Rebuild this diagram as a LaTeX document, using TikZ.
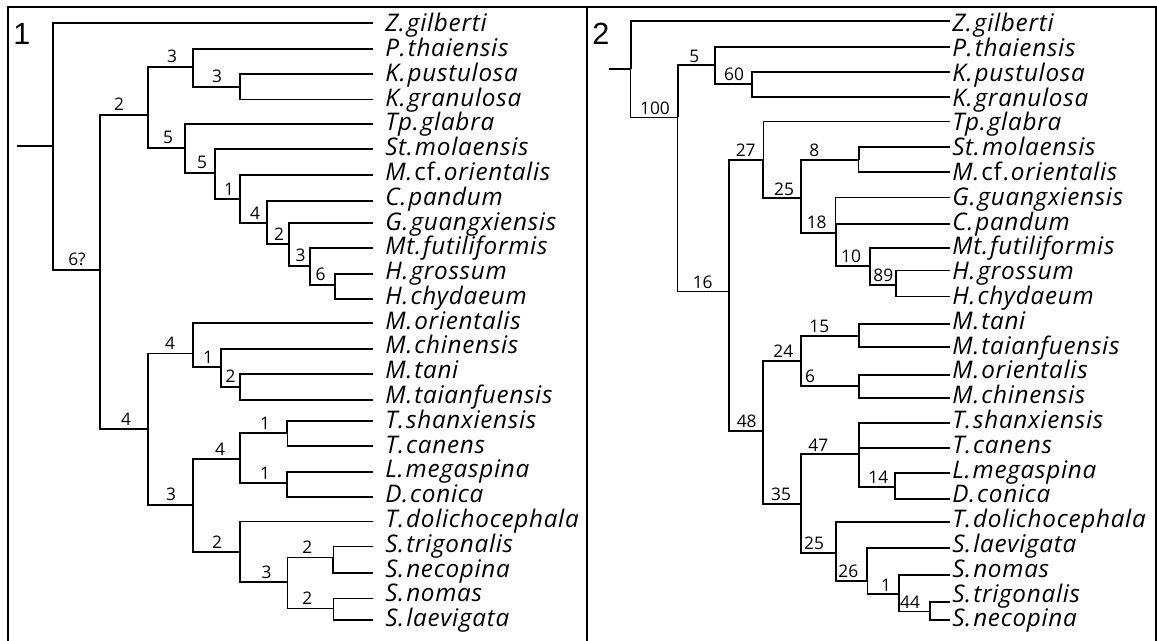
\documentclass[tikz,border=0pt]{standalone}
\usepackage{fontspec}
\setmainfont{Open Sans}
\newfontfamily\taxfont{Open Sans}[LetterSpace=3]
\newfontfamily\panelfont{Liberation Sans}
\newcommand\tsp{\hspace{0.08em}}
\begin{document}
\begin{tikzpicture}[x=0.75pt,y=-0.75pt,
  thk/.style={line width=1.75pt},
  thn/.style={line width=1.05pt},
  frame/.style={line width=1.6pt},
  taxon/.style={anchor=base west, inner sep=0pt, font=\taxfont\fontsize{18.2}{18.2}\selectfont\itshape},
  bsup/.style={anchor=base, inner sep=0pt, font=\fontsize{13}{13}\selectfont},
  plabel/.style={anchor=base, inner sep=0pt, font=\panelfont\fontsize{23}{23}\selectfont}]
\useasboundingbox (0,0) rectangle (1157,641);
% frame
\draw[frame] (8.3,642) -- (8.3,6.7) -- (1156,6.7) -- (1156,642);
\draw[frame] (587.3,6.7) -- (587.3,642);
\node[plabel] (p1) at (22,45) {1};
\node[plabel] (p2) at (601,45) {2};

% ================= PANEL 1 =================
\coordinate (a-stub) at (17,146);
\coordinate (a-R) at (53,146);
\coordinate (a-N6) at (100,270);
\coordinate (a-N2) at (148,115);
\coordinate (a-N3a) at (193,67);
\coordinate (a-N3b) at (240,86.7);
\coordinate (a-N5a) at (185,148);
\coordinate (a-N5b) at (215,173);
\coordinate (a-N1a) at (240,199.3);
\coordinate (a-N4b) at (267,223.3);
\coordinate (a-N2b) at (289,244.3);
\coordinate (a-N3c) at (310,266);
\coordinate (a-N6b) at (335,285);
\coordinate (a-N4a) at (148,429.3);
\coordinate (a-N4c) at (193,353.3);
\coordinate (a-N1b) at (220.7,367.3);
\coordinate (a-N2c) at (240,386.7);
\coordinate (a-N3d) at (193,505);
\coordinate (a-N4d) at (240,459.3);
\coordinate (a-N1c) at (287.3,433.3);
\coordinate (a-N1d) at (287.3,483.3);
\coordinate (a-N2d) at (240,552.3);
\coordinate (a-N3e) at (287.3,582.3);
\coordinate (a-N2e) at (333.3,557.7);
\coordinate (a-N2f) at (333.3,608.3);
\foreach \y [count=\i] in {22.7,49.3,74,99.3,124,149.3,174.7,201,222.7,248.3,274,299.3,323.3,349.3,374,400,421,446,471.7,497.3,521.7,546.7,572.7,598.3,620}
  \coordinate (a-L\i) at (373,\y);
\foreach \n [count=\i] in {Z.\tsp gilberti,P.\tsp thaiensis,K.\tsp pustulosa,K.\tsp granulosa,Tp.\tsp glabra,St.\tsp molaensis,M.\tsp{\upshape cf.}\tsp orientalis,C.\tsp pandum,G.\tsp guangxiensis,Mt.\tsp futiliformis,H.\tsp grossum,H.\tsp chydaeum,M.\tsp orientalis,M.\tsp chinensis,M.\tsp tani,M.\tsp taianfuensis,T.\tsp shanxiensis,T.\tsp canens,L.\tsp megaspina,D.\tsp conica,T.\tsp dolichocephala,S.\tsp trigonalis,S.\tsp necopina,S.\tsp nomas,S.\tsp laevigata}
  \node[taxon] (a-T\i) at (385,{31.7+24.79*(\i-1)}) {\n};

\draw[thn] (a-stub) -- (a-R);
\draw[thk] (a-R) |- (a-L1);
\draw[thk] (a-R) |- (a-N6);
\draw[thk] (a-N6) |- (a-N2);
\draw[thk] (a-N6) |- (a-N4a);
\draw[thn] (a-N2) |- (a-N3a);
\draw[thk] (a-N2) |- (a-N5a);
\draw[thk] (a-N3a) |- (a-L2);
\draw[thk] (a-N3a) |- (a-N3b);
\draw[thk] (a-N3b) |- (a-L3);
\draw[thn] (a-N3b) |- (a-L4);
\draw[thk] (a-N5a) |- (a-L5);
\draw[thk] (a-N5a) |- (a-N5b);
\draw[thk] (a-N5b) |- (a-L6);
\draw[thk] (a-N5b) |- (a-N1a);
\draw[thk] (a-N1a) |- (a-L7);
\draw[thk] (a-N1a) |- (a-N4b);
\draw[thn] (a-N4b) |- (a-L8);
\draw[thk] (a-N4b) |- (a-N2b);
\draw[thk] (a-N2b) |- (a-L9);
\draw[thk] (a-N2b) |- (a-N3c);
\draw[thk] (a-N3c) |- (a-L10);
\draw[thn] (a-N3c) |- (a-N6b);
\draw[thk] (a-N6b) |- (a-L11);
\draw[thk] (a-N6b) |- (a-L12);
\draw[thn] (a-N4a) |- (a-N4c);
\draw[thk] (a-N4a) |- (a-N3d);
\draw[thk] (a-N4c) |- (a-L13);
\draw[thk] (a-N4c) |- (a-N1b);
\draw[thk] (a-N1b) |- (a-L14);
\draw[thk] (a-N1b) |- (a-N2c);
\draw[thk] (a-N2c) |- (a-L15);
\draw[thk] (a-N2c) |- (a-L16);
\draw[thk] (a-N3d) |- (a-N4d);
\draw[thk] (a-N3d) |- (a-N2d);
\draw[thk] (a-N4d) |- (a-N1c);
\draw[thk] (a-N4d) |- (a-N1d);
\draw[thk] (a-N1c) |- (a-L17);
\draw[thn] (a-N1c) |- (a-L18);
\draw[thk] (a-N1d) |- (a-L19);
\draw[thk] (a-N1d) |- (a-L20);
\draw[thn] (a-N2d) |- (a-L21);
\draw[thk] (a-N2d) |- (a-N3e);
\draw[thn] (a-N3e) |- (a-N2e);
\draw[thn] (a-N3e) |- (a-N2f);
\draw[thn] (a-N2e) |- (a-L22);
\draw[thk] (a-N2e) |- (a-L23);
\draw[thn] (a-N2f) |- (a-L24);
\draw[thn] (a-N2f) |- (a-L25);

\node[bsup] (a-s6) at (77,266) {6?};
\node[bsup] (a-s2) at (119,111) {2};
\node[bsup] (a-s3a) at (172,63) {3};
\node[bsup] (a-s3b) at (217,82.7) {3};
\node[bsup] (a-s5a) at (168,144) {5};
\node[bsup] (a-s5b) at (202,169) {5};
\node[bsup] (a-s1a) at (229,195.3) {1};
\node[bsup] (a-s4b) at (255,219.3) {4};
\node[bsup] (a-s2b) at (279,240.3) {2};
\node[bsup] (a-s3c) at (300.7,262) {3};
\node[bsup] (a-s6b) at (320.7,281) {6};
\node[bsup] (a-s4a) at (126,425.3) {4};
\node[bsup] (a-s4c) at (170,349.3) {4};
\node[bsup] (a-s1b) at (208,363.3) {1};
\node[bsup] (a-s2c) at (230.7,382.7) {2};
\node[bsup] (a-s3d) at (171,501) {3};
\node[bsup] (a-s4d) at (220,455.3) {4};
\node[bsup] (a-s1c) at (265,429.3) {1};
\node[bsup] (a-s1d) at (265,479.3) {1};
\node[bsup] (a-s2d) at (217,548.3) {2};
\node[bsup] (a-s3e) at (266.7,578.3) {3};
\node[bsup] (a-s2e) at (307.3,553.7) {2};
\node[bsup] (a-s2f) at (307.3,604.3) {2};

% ================= PANEL 2 =================
\coordinate (b-stub) at (609.3,69.3);
\coordinate (b-R) at (630.7,69.3);
\coordinate (b-M100) at (677.7,117.3);
\coordinate (b-M5) at (715,65.3);
\coordinate (b-M60) at (751.7,84);
\coordinate (b-M16) at (729,291.7);
\coordinate (b-M27) at (763.3,160);
\coordinate (b-M25a) at (801,198.3);
\coordinate (b-M8) at (858.7,160);
\coordinate (b-M18) at (835.7,233.3);
\coordinate (b-M10) at (870,265.7);
\coordinate (b-M89) at (896,285);
\coordinate (b-M48) at (763.3,431);
\coordinate (b-M24) at (801,360.7);
\coordinate (b-M15) at (858.7,336);
\coordinate (b-M6) at (858.7,385.7);
\coordinate (b-M35) at (801,504);
\coordinate (b-M47) at (858.7,454.3);
\coordinate (b-M14) at (895,486.7);
\coordinate (b-M25b) at (835.7,552.7);
\coordinate (b-M26) at (867.3,580.7);
\coordinate (b-M1) at (899,594);
\coordinate (b-M44) at (930,611.7);
\foreach \y [count=\i] in {20.7,46.7,71.7,97,121.7,147,172,197.7,224,248.3,270.7,296.7,324,346.7,375,398.3,423.3,448.3,473.3,499,521.7,548.3,575,601.7,620}
  \coordinate (b-L\i) at (950,\y);
\foreach \n [count=\i] in {Z.\tsp gilberti,P.\tsp thaiensis,K.\tsp pustulosa,K.\tsp granulosa,Tp.\tsp glabra,St.\tsp molaensis,M.\tsp{\upshape cf.}\tsp orientalis,G.\tsp guangxiensis,C.\tsp pandum,Mt.\tsp futiliformis,H.\tsp grossum,H.\tsp chydaeum,M.\tsp tani,M.\tsp taianfuensis,M.\tsp orientalis,M.\tsp chinensis,T.\tsp shanxiensis,T.\tsp canens,L.\tsp megaspina,D.\tsp conica,T.\tsp dolichocephala,S.\tsp laevigata,S.\tsp nomas,S.\tsp trigonalis,S.\tsp necopina}
  \node[taxon] (b-T\i) at (952,{31.7+24.8*(\i-1)}) {\n};

\draw[thk] (b-stub) -- (b-R);
\draw[thk] (b-R) |- (b-L1);
\draw[thn] (b-R) |- (b-M100);
\draw[thk] (b-M100) |- (b-M5);
\draw[thn] (b-M100) |- (b-M16);
\draw[thk] (b-M5) |- (b-L2);
\draw[thk] (b-M5) |- (b-M60);
\draw[thk] (b-M60) |- (b-L3);
\draw[thk] (b-M60) |- (b-L4);
\draw[thk] (b-M16) |- (b-M27);
\draw[thk] (b-M16) |- (b-M48);
\draw[thn] (b-M27) |- (b-L5);
\draw[thk] (b-M27) |- (b-M25a);
\draw[thk] (b-M25a) |- (b-M8);
\draw[thk] (b-M25a) |- (b-M18);
\draw[thk] (b-M8) |- (b-L6);
\draw[thn] (b-M8) |- (b-L7);
\draw[thn] (b-M18) |- (b-L8);
\draw[thk] (b-M18) |- (b-L9);
\draw[thk] (b-M18) |- (b-M10);
\draw[thk] (b-M10) |- (b-L10);
\draw[thn] (b-M10) |- (b-M89);
\draw[thn] (b-M89) |- (b-L11);
\draw[thn] (b-M89) |- (b-L12);
\draw[thk] (b-M48) |- (b-M24);
\draw[thk] (b-M48) |- (b-M35);
\draw[thk] (b-M24) |- (b-M15);
\draw[thk] (b-M24) |- (b-M6);
\draw[thk] (b-M15) |- (b-L13);
\draw[thk] (b-M15) |- (b-L14);
\draw[thk] (b-M6) |- (b-L15);
\draw[thk] (b-M6) |- (b-L16);
\draw[thk] (b-M35) |- (b-M47);
\draw[thk] (b-M35) |- (b-M25b);
\draw[thk] (b-M47) |- (b-L17);
\draw[thk] (b-M47) |- (b-L18);
\draw[thk] (b-M47) |- (b-M14);
\draw[thk] (b-M14) |- (b-L19);
\draw[thk] (b-M14) |- (b-L20);
\draw[thk] (b-M25b) |- (b-L21);
\draw[thk] (b-M25b) |- (b-M26);
\draw[thk] (b-M26) |- (b-L22);
\draw[thn] (b-M26) |- (b-M1);
\draw[thk] (b-M1) |- (b-L23);
\draw[thn] (b-M1) |- (b-M44);
\draw[thk] (b-M44) |- (b-L24);
\draw[thk] (b-M44) |- (b-L25);

\node[bsup] (b-s100) at (655,114.3) {100};
\node[bsup] (b-s5) at (694.3,62.3) {5};
\node[bsup] (b-s60) at (734,81) {60};
\node[bsup] (b-s16) at (702.7,288.7) {16};
\node[bsup] (b-s27) at (745.7,157) {27};
\node[bsup] (b-s25a) at (784,195.3) {25};
\node[bsup] (b-s8) at (814.3,157) {8};
\node[bsup] (b-s18) at (816.7,229) {18};
\node[bsup] (b-s10) at (851,262.7) {10};
\node[bsup] (b-s89) at (883.3,282) {89};
\node[bsup] (b-s48) at (746.7,428) {48};
\node[bsup] (b-s24) at (783.3,357.7) {24};
\node[bsup] (b-s15) at (819.3,333) {15};
\node[bsup] (b-s6) at (810,382.7) {6};
\node[bsup] (b-s35) at (781,501) {35};
\node[bsup] (b-s47) at (818.3,451.3) {47};
\node[bsup] (b-s14) at (878.3,483.7) {14};
\node[bsup] (b-s25b) at (814,549.7) {25};
\node[bsup] (b-s26) at (848.3,577.7) {26};
\node[bsup] (b-s1) at (886,591) {1};
\node[bsup] (b-s44) at (910,608.7) {44};
\end{tikzpicture}
\end{document}
